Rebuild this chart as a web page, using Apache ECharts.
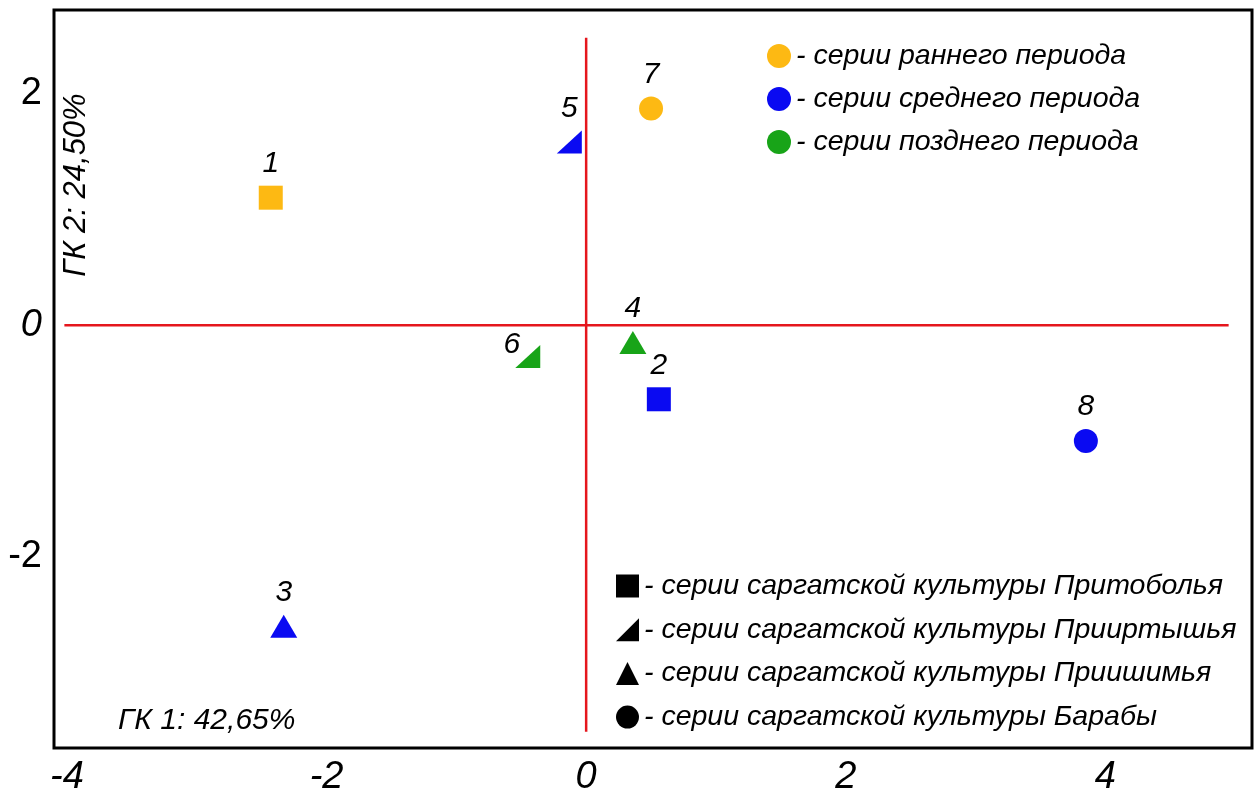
<!DOCTYPE html>
<html>
<head>
<meta charset="utf-8">
<title>ГК 1 / ГК 2</title>
<script src="https://cdn.jsdelivr.net/npm/echarts@6/dist/echarts.min.js"></script>
<style>
  html, body { margin: 0; padding: 0; background: #fff; }
  #chart { width: 1260px; height: 791px; }
</style>
</head>
<body>
<div id="chart"></div>
<script>
// Principal component scores of the series (ГК 1, ГК 2)
const pointIds = ['1', '2', '3', '4', '5', '6', '7', '8'];
const pc1 = [-2.43, 0.56, -2.33, 0.36, -0.13, -0.45, 0.50, 3.85];
const pc2 = [1.10, -0.64, -2.60, -0.15, 1.58, -0.27, 1.87, -1.00];
const periodOf = ['early', 'middle', 'middle', 'late', 'middle', 'late', 'early', 'middle'];
const cultureOf = ['tobol', 'tobol', 'ishim', 'ishim', 'irtysh', 'irtysh', 'baraba', 'baraba'];

// Legend groups
const periodKeys = ['early', 'middle', 'late'];
const periodNames = ['серии раннего периода', 'серии среднего периода', 'серии позднего периода'];
const cultureKeys = ['tobol', 'irtysh', 'ishim', 'baraba'];
const cultureNames = [
  'серии саргатской культуры Притоболья',
  'серии саргатской культуры Прииртышья',
  'серии саргатской культуры Приишимья',
  'серии саргатской культуры Барабы'
];

// Axis ticks and titles
const xTicks = [-4, -2, 0, 2, 4];
const yTicks = [-2, 0, 2];
const xTitle = 'ГК 1: 42,65%';
const yTitle = 'ГК 2: 24,50%';

// Red zero cross lines
const guideV = [[0, 2.48], [0, -3.51]];
const guideH = [[-4.02, 0], [4.95, 0]];

// ---- styling ----
const FONT = '"Liberation Sans", Arial, sans-serif';
const periodColor = { early: '#FDB913', middle: '#0A0AF2', late: '#18A418' };
const cultureSymbol = {
  tobol: 'rect',
  irtysh: 'path://M0,10 L10,0 L10,10 Z',
  ishim: 'triangle',
  baraba: 'circle'
};
const cultureSize = { tobol: 24, irtysh: [25, 23], ishim: [27, 23], baraba: 24 };
const labelOffset = { '6': [-16, 22] };

const periodSeries = periodKeys.map((key, k) => {
  const data = [];
  pointIds.forEach((id, i) => {
    if (periodOf[i] !== key) return;
    const c = cultureOf[i];
    const item = {
      name: id,
      value: [pc1[i], pc2[i]],
      symbol: cultureSymbol[c],
      symbolSize: cultureSize[c]
    };
    if (labelOffset[id]) item.label = { offset: labelOffset[id] };
    data.push(item);
  });
  return {
    name: periodNames[k],
    type: 'scatter',
    symbol: 'circle',
    itemStyle: { color: periodColor[key], opacity: 1 },
    label: {
      show: true,
      position: 'top',
      distance: 7,
      formatter: '{b}',
      color: '#000',
      fontSize: 30,
      fontStyle: 'italic',
      fontFamily: FONT
    },
    emphasis: { disabled: true },
    z: 5,
    data
  };
});

const cultureSeries = cultureKeys.map((key, k) => ({
  name: cultureNames[k],
  type: 'scatter',
  symbol: cultureSymbol[key],
  itemStyle: { color: '#000', opacity: 1 },
  data: []
}));

const guideStyle = { color: '#E5161D', width: 2.5 };
const guideSeries = [guideV, guideH].map((d) => ({
  type: 'line',
  data: d,
  symbol: 'none',
  silent: true,
  lineStyle: guideStyle,
  z: 2
}));

const legendText = {
  color: '#000',
  fontSize: 28.5,
  fontStyle: 'italic',
  fontFamily: FONT,
  lineHeight: 30
};

const chart = echarts.init(document.getElementById('chart'), null, { renderer: 'canvas' });
chart.setOption({
  backgroundColor: '#fff',
  animation: false,
  grid: {
    left: 54, right: 8, top: 10, bottom: 43,
    outerBoundsMode: 'none',
    containLabel: false,
    show: true,
    borderColor: '#000',
    borderWidth: 3,
    backgroundColor: 'transparent'
  },
  xAxis: {
    type: 'value',
    min: -4.1,
    max: 5.13,
    axisLine: { show: false },
    axisTick: { show: false },
    splitLine: { show: false },
    axisLabel: {
      customValues: xTicks,
      margin: 10,
      color: '#000',
      fontSize: 38,
      fontStyle: 'italic',
      fontFamily: FONT
    }
  },
  yAxis: {
    type: 'value',
    min: -3.65,
    max: 2.72,
    axisLine: { show: false },
    axisTick: { show: false },
    splitLine: { show: false },
    axisLabel: {
      customValues: yTicks,
      margin: 12,
      formatter: (v) => (v === 0 ? '{it|' + v + '}' : '{up|' + v + '}'),
      rich: {
        it: { color: '#000', fontSize: 38, fontStyle: 'italic', fontFamily: FONT },
        up: { color: '#000', fontSize: 38, fontFamily: FONT }
      }
    }
  },
  legend: [
    {
      data: periodNames,
      orient: 'vertical',
      left: 762,
      top: 36,
      icon: 'circle',
      itemWidth: 24,
      itemHeight: 24,
      itemGap: 13,
      selectedMode: false,
      formatter: '- {name}',
      textStyle: legendText
    },
    {
      data: cultureNames,
      orient: 'vertical',
      left: 611,
      top: 566,
      itemWidth: 23,
      itemHeight: 23,
      itemGap: 13.7,
      selectedMode: false,
      formatter: '- {name}',
      textStyle: legendText
    }
  ],
  graphic: [
    {
      type: 'text',
      left: 118,
      top: 706,
      style: { text: xTitle, fill: '#000', font: 'italic 30px ' + FONT }
    },
    {
      type: 'text',
      x: 76,
      y: 185,
      rotation: Math.PI / 2,
      style: {
        text: yTitle,
        fill: '#000',
        font: 'italic 31px ' + FONT,
        align: 'center',
        verticalAlign: 'middle'
      }
    }
  ],
  series: [...guideSeries, ...periodSeries, ...cultureSeries]
});
</script>
</body>
</html>
